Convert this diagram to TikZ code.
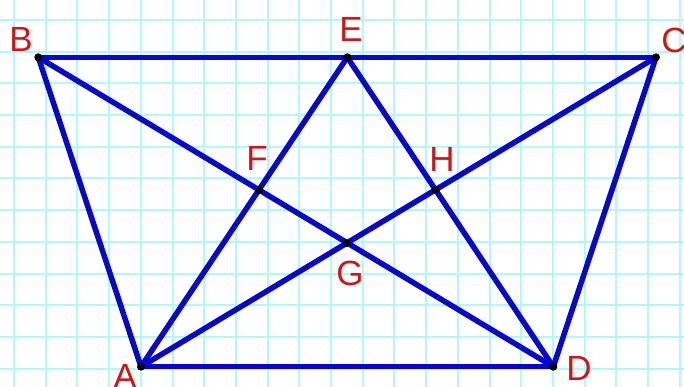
\documentclass[tikz,border=0pt]{standalone}
\usepackage{fontspec}
\setmainfont{Liberation Sans}
\definecolor{gridc}{RGB}{175,248,252}
\definecolor{segc}{RGB}{8,8,205}
\definecolor{labc}{RGB}{210,20,20}
\begin{document}
\begin{tikzpicture}[x=1pt,y=-1pt,
  seg/.style={draw=segc,line width=5.5pt,line cap=round},
  ptdot/.style={circle,fill=black,inner sep=0pt,minimum size=8pt},
  lab/.style={text=labc,font=\fontsize{35}{35}\selectfont,inner sep=0pt}]
\useasboundingbox (0,0) rectangle (684,387);
\fill[white] (0,0) rectangle (684,387);
\foreach \i in {0,...,21} \draw[gridc,line width=2pt] ({14+31.7*\i},0) -- ({14+31.7*\i},387);
\foreach \j in {0,...,11} \draw[gridc,line width=2pt] (0,{20+31.7*\j}) -- (684,{20+31.7*\j});
\coordinate (B) at (38.3,57.3);
\coordinate (E) at (347.3,57.3);
\coordinate (C) at (656,57.3);
\coordinate (A) at (141,366.7);
\coordinate (D) at (553.3,366.7);
\coordinate (F) at (259,190);
\coordinate (G) at (346.7,243.3);
\coordinate (H) at (435.7,190);
\draw[seg] (B) -- (C);
\draw[seg] (B) -- (A);
\draw[seg] (C) -- (D);
\draw[seg] (A) -- (D);
\draw[seg] (A) -- (E);
\draw[seg] (E) -- (D);
\draw[seg] (B) -- (D);
\draw[seg] (A) -- (C);
\foreach \p in {A,B,C,D,E,F,G,H} \node[ptdot] (dot\p) at (\p) {};
\node[lab] (lB) at (21,39) {B};
\node[lab] (lE) at (351,29) {E};
\node[lab] (lC) at (674,40) {C};
\node[lab] (lD) at (579,368) {D};
\node[lab] (lA) at (125,376) {A};
\node[lab] (lF) at (257,158) {F};
\node[lab] (lH) at (442,159) {H};
\node[lab] (lG) at (350,273) {G};
\end{tikzpicture}
\end{document}
